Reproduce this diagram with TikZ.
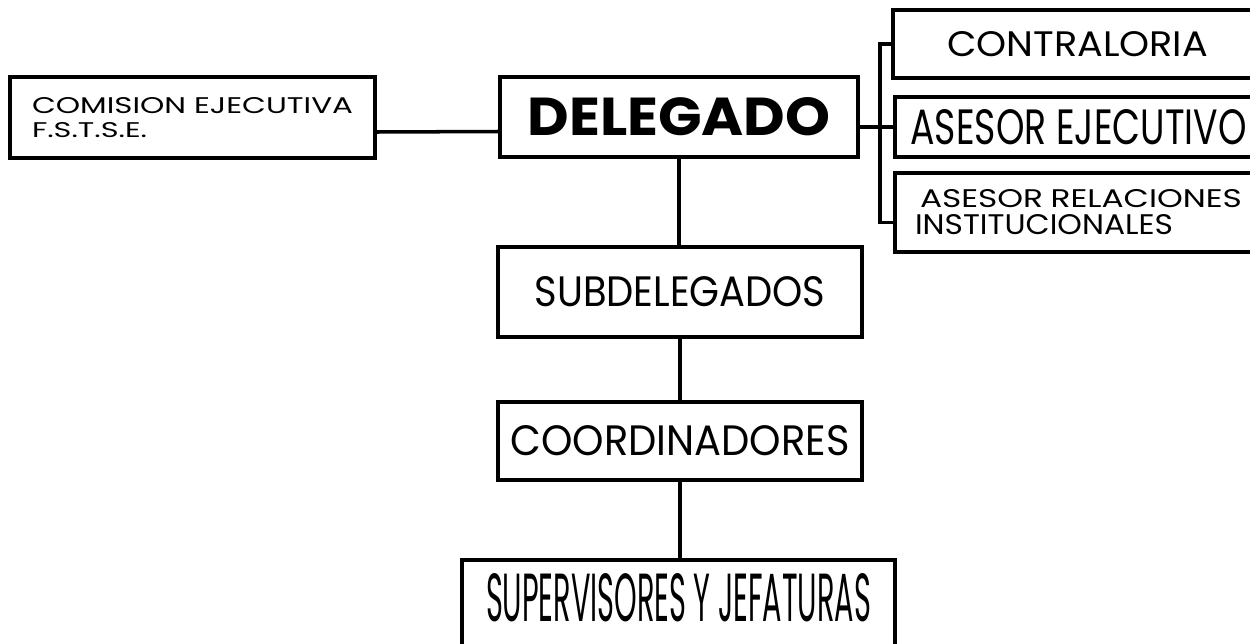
\documentclass[tikz,border=0pt]{standalone}
\usepackage{fontspec}
\setmainfont{Poppins}
\usepackage{graphicx}

\newlength\pxu
\setlength\pxu{0.02cm}
% text squeezed to the measured width and cap height
\newcommand\lbl[3]{{\fontsize{\the\dimexpr #2\pxu*10/7\relax}{\the\dimexpr #2\pxu*2\relax}\selectfont\resizebox{#1\pxu}{#2\pxu}{#3}}}

\tikzset{
  box/.style={draw, line width=2pt, inner sep=0pt, rectangle},
  link/.style={line width=2pt}
}

\begin{document}
\begin{tikzpicture}[x=0.02cm, y=-0.02cm]
  \useasboundingbox (0,0) rectangle (1250,643);

  \node[box, minimum width=365*\pxu, minimum height=81*\pxu, align=left, text width=321*\pxu,
        font={\fontsize{10pt}{24\pxu}\selectfont}] (com) at (192.5,117.5)
        {\lbl{321}{16}{COMISION EJECUTIVA}\\\lbl{115}{15}{F.S.T.S.E.}};

  \node[box, minimum width=358*\pxu, minimum height=80*\pxu] (dele) at (679,117)
        {\lbl{303}{38}{\bfseries DELEGADO}};

  \node[box, minimum width=369*\pxu, minimum height=68*\pxu] (con) at (1077.5,44)
        {\lbl{261}{25}{CONTRALORIA}};
  \node[box, minimum width=367*\pxu, minimum height=60*\pxu] (ase) at (1078.5,127)
        {\lbl{336}{35}{ASESOR EJECUTIVO}};
  \node[box, minimum width=367*\pxu, minimum height=79*\pxu, align=left, text width=327*\pxu,
        font={\fontsize{10pt}{27\pxu}\selectfont}] (rel) at (1078.5,212.5)
        {\hspace*{5\pxu}\lbl{322}{18}{ASESOR RELACIONES}\\\lbl{258}{20}{INSTITUCIONALES}};

  \node[box, minimum width=364*\pxu, minimum height=90*\pxu] (sub) at (680,292)
        {\lbl{291}{30}{SUBDELEGADOS}};
  \node[box, minimum width=364*\pxu, minimum height=78*\pxu] (coord) at (680,441)
        {\lbl{339}{30}{COORDINADORES}};
  \node[box, minimum width=433*\pxu, minimum height=87*\pxu, text depth=12*\pxu] (sup) at (678.5,603.5)
        {\lbl{385}{48}{SUPERVISORES Y JEFATURAS}};

  \coordinate (brk) at (880,0);

  \draw[link] ([yshift=-0.29cm]com.east) -- ([yshift=-0.29cm]dele.west);
  \draw[link] ([yshift=-0.2cm]dele.east) -- (ase.west);
  \draw[link] (con.west) -- (con.west -| brk) |- ([yshift=-0.2cm]rel.west);

  \draw[link] (dele.south) -- (dele.south |- sub.north);
  \draw[link] (sub.south) -- (sub.south |- coord.north);
  \draw[link] (coord.south) -- (coord.south |- sup.north);
\end{tikzpicture}
\end{document}
